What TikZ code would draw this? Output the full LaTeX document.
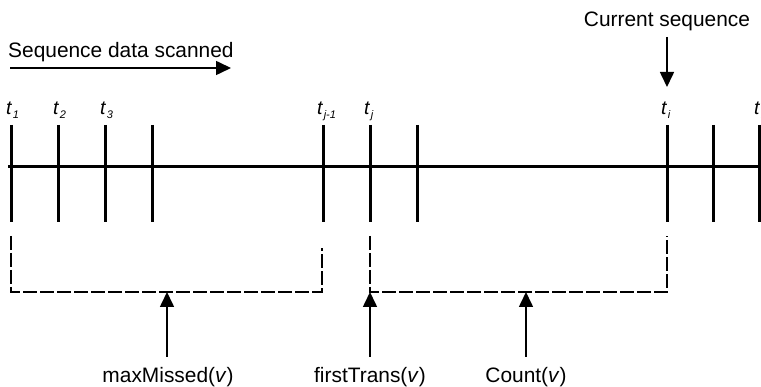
\documentclass[tikz,border=0pt]{standalone}
\usepackage{fontspec}
\setmainfont{Liberation Sans}
\usetikzlibrary{arrows.meta}
\newcommand{\tlab}[1]{\fontsize{19.5}{22}\selectfont\textit{t}\kern0.5pt\raisebox{-3.5pt}{\fontsize{11}{11}\selectfont\textit{#1}}}
\begin{document}
\begin{tikzpicture}[x=1pt,y=-1pt,
  txt/.style={font=\fontsize{20.9}{24}\selectfont, inner sep=0pt},
  tl/.style={inner sep=0pt, anchor=base west},
  axisline/.style={line width=3pt},
  tickline/.style={line width=3pt},
  bracket/.style={line width=1.5pt, dash pattern=on 14pt off 3pt},
  arr/.style={line width=1.6pt, -{Triangle[length=15pt,width=14pt]}}]
\useasboundingbox (0,0) rectangle (761,387);
\clip (0,0) rectangle (761,387);

% scanning direction
\node[txt, anchor=base west] (scan) at (8,58) {Sequence data scanned};
\coordinate (scanA) at (10,68);
\coordinate (scanB) at (231,68);
\draw[arr] (scanA) -- (scanB);

% current sequence
\node[txt, anchor=base] (cur) at (667,27) {Current sequence};
\coordinate (curA) at (667,37);
\coordinate (curB) at (667,87);
\draw[arr] (curA) -- (curB);

% time line
\coordinate (L) at (8,167);
\coordinate (R) at (761,167);
\draw[axisline] (L) -- (R);
\foreach \x in {11,58,105,152,323,370,417,667,713,759}{
  \draw[tickline] (\x,125) -- (\x,222);
}

% tick labels
\node[tl] (t1) at (6,115) {\tlab{1}};
\node[tl] (t2) at (53,115) {\tlab{2}};
\node[tl] (t3) at (100,115) {\tlab{3}};
\node[tl] (tj1) at (317,115) {\tlab{j-1}};
\node[tl] (tj) at (364,115) {\tlab{j}};
\node[tl] (ti) at (661,115) {\tlab{i}};
\node[tl] (tn) at (754,115) {\tlab{i+1}};

% brackets
\coordinate (b1a) at (11,236);
\coordinate (b1b) at (11,292);
\coordinate (b1c) at (322,292);
\coordinate (b1d) at (322,248);
\draw[bracket] (b1a) -- (b1b) -- (b1c) -- (b1d);
\coordinate (b2a) at (370,236);
\coordinate (b2b) at (370,292);
\coordinate (b2c) at (667,292);
\coordinate (b2d) at (667,236);
\draw[bracket] (b2a) -- (b2b) -- (b2c) -- (b2d);

% labels and pointers
\node[txt, anchor=base] (mm) at (168,383) {maxMissed(\textit{v})};
\node[txt, anchor=base] (ft) at (370,383) {firstTrans(\textit{v})};
\node[txt, anchor=base] (cnt) at (526,383) {Count(\textit{v})};
\coordinate (mmA) at (167,357);
\coordinate (mmB) at (167,292);
\coordinate (ftA) at (370,357);
\coordinate (ftB) at (370,292);
\coordinate (cnA) at (526,357);
\coordinate (cnB) at (526,292);
\draw[arr] (mmA) -- (mmB);
\draw[arr] (ftA) -- (ftB);
\draw[arr] (cnA) -- (cnB);
\end{tikzpicture}
\end{document}
